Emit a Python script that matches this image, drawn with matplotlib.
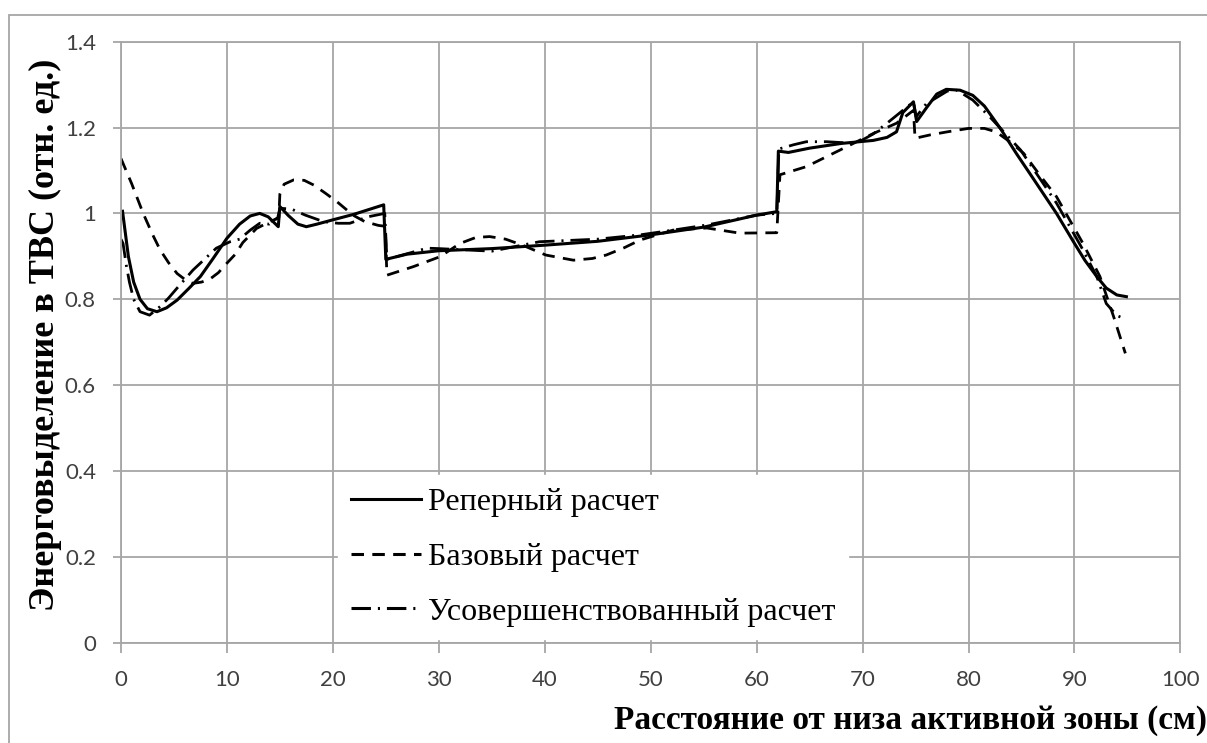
import matplotlib
matplotlib.use("Agg")
import matplotlib.pyplot as plt
from matplotlib.lines import Line2D
from matplotlib.patches import Rectangle

plt.rcParams['lines.scale_dashes'] = False

# Реперный расчет
x_ref = [0.15, 0.7, 1.2, 1.8, 2.5, 3.4, 4.3, 5.3, 6.4, 7.5, 8.7, 10.0, 11.2, 12.2, 13.1,
         13.9, 14.85, 15.0, 15.8, 16.7, 17.5, 18.5, 20.0, 22.0, 24.8, 25.0, 27.0, 30.0,
         35.0, 40.0, 45.0, 50.0, 55.0, 60.0, 61.9, 62.05, 63.0, 65.0, 68.0, 71.0, 72.3,
         73.2, 73.8, 74.8, 75.1, 76.0, 77.0, 77.9, 79.2, 80.4, 81.5, 83.0, 84.5, 86.0,
         88.3, 90.0, 91.0, 92.1, 93.0, 94.0, 94.9]
y_ref = [1.005, 0.90, 0.84, 0.80, 0.778, 0.771, 0.78, 0.798, 0.825, 0.853, 0.895, 0.942,
         0.975, 0.994, 1.000, 0.992, 0.969, 1.016, 0.995, 0.975, 0.969, 0.975, 0.985,
         0.998, 1.020, 0.893, 0.905, 0.913, 0.918, 0.926, 0.935, 0.950, 0.968, 0.996,
         1.004, 1.145, 1.142, 1.152, 1.163, 1.170, 1.177, 1.19, 1.235, 1.26, 1.214, 1.245,
         1.278, 1.289, 1.287, 1.275, 1.25, 1.198, 1.14, 1.085, 1.0, 0.93, 0.89, 0.853,
         0.826, 0.81, 0.806]

# Базовый расчет
x_base = [0.0, 1.0, 2.1, 3.0, 3.7, 4.5, 5.3, 6.2, 6.8, 7.6, 8.4, 9.2, 10.0, 10.8, 11.5,
          12.8, 14.0, 14.9, 15.0, 15.4, 16.3, 17.3, 18.2, 19.3, 20.4, 21.9, 23.0, 24.3,
          24.95, 25.1, 27.6, 30.1, 32.0, 33.5, 34.8, 36.3, 37.9, 40.1, 42.7, 44.5, 45.8,
          47.5, 49.0, 52.1, 55.3, 58.4, 61.9, 62.2, 64.7, 67.9, 71.0, 73.2, 74.8, 74.95,
          76.4, 78.0, 80.0, 81.5, 82.6, 84.0, 85.2, 86.7, 88.3, 90.8, 92.4, 93.7, 94.8]
y_base = [1.128, 1.07, 1.0, 0.95, 0.915, 0.885, 0.860, 0.843, 0.837, 0.84, 0.847, 0.862,
          0.884, 0.905, 0.932, 0.965, 0.98, 0.99, 1.045, 1.068, 1.078, 1.077, 1.066, 1.047,
          1.027, 0.996, 0.981, 0.972, 0.97, 0.856, 0.876, 0.899, 0.93, 0.944, 0.946, 0.94,
          0.926, 0.903, 0.891, 0.895, 0.903, 0.92, 0.938, 0.961, 0.966, 0.954, 0.955, 1.09,
          1.109, 1.148, 1.186, 1.21, 1.24, 1.175, 1.183, 1.19, 1.198, 1.198, 1.19, 1.165,
          1.14, 1.09, 1.039, 0.93, 0.853, 0.759, 0.674]

# Усовершенствованный расчет
x_imp = [0.0, 0.2, 0.5, 0.8, 1.2, 1.8, 2.7, 3.7, 4.5, 5.3, 6.8, 9.0, 10.3, 11.2, 12.2,
         13.1, 14.0, 14.8, 15.0, 16.1, 17.4, 19.1, 20.5, 21.6, 23.3, 24.9, 25.1, 28.9,
         30.0, 35.0, 39.5, 45.0, 49.0, 52.1, 55.3, 60.0, 61.9, 62.1, 63.5, 64.7, 66.6,
         69.4, 71.0, 72.3, 74.2, 74.8, 75.05, 76.0, 78.0, 78.9, 80.4, 82.0, 84.9, 88.3,
         90.8, 92.1, 93.0, 94.0, 94.6, 94.9]
y_imp = [0.94, 0.93, 0.88, 0.84, 0.80, 0.771, 0.763, 0.783, 0.803, 0.826, 0.868, 0.919,
         0.934, 0.94, 0.961, 0.977, 0.975, 0.99, 1.012, 1.01, 0.996, 0.981, 0.977, 0.977,
         0.992, 1.0, 0.893, 0.919, 0.918, 0.912, 0.934, 0.94, 0.95, 0.961, 0.973, 0.996,
         1.0, 1.15, 1.16, 1.167, 1.167, 1.163, 1.185, 1.21, 1.248, 1.26, 1.225, 1.255,
         1.285, 1.287, 1.264, 1.225, 1.148, 1.024, 0.915, 0.853, 0.79, 0.762, 0.756, 0.76]

labels = ['Реперный расчет', 'Базовый расчет', 'Усовершенствованный расчет']
x_ticks = list(range(0, 101, 10))
y_ticks = [0, 0.2, 0.4, 0.6, 0.8, 1, 1.2, 1.4]
y_ticklabels = ['0', '0.2', '0.4', '0.6', '0.8', '1', '1.2', '1.4']

grid_c = '#a6a6a6'
styles = ['-', (0, (9, 6)), (0, (14, 5, 1.5, 5))]

fig = plt.figure(figsize=(12.07, 7.43), dpi=100)
ax = fig.add_axes([0.1002, 0.135, 0.8778, 0.8089])

ax.plot(x_ref, y_ref, color='black', lw=2.2, linestyle=styles[0])
ax.plot(x_base, y_base, color='black', lw=2.0, linestyle=styles[1])
ax.plot(x_imp, y_imp, color='black', lw=2.0, linestyle=styles[2])

ax.set_xlim(0, 100)
ax.set_ylim(0, 1.4)
ax.set_xticks(x_ticks)
ax.set_yticks(y_ticks)
ax.set_yticklabels(y_ticklabels)
ax.grid(True, color=grid_c, lw=1.3)
ax.set_axisbelow(True)
for s in ax.spines.values():
    s.set_color(grid_c)
    s.set_linewidth(1.3)
ax.tick_params(axis='both', color=grid_c, width=1.3, labelcolor='#404040', labelsize=16)
ax.tick_params(axis='x', length=7, pad=13)
ax.tick_params(axis='y', length=6, pad=12)
for lab in ax.get_xticklabels() + ax.get_yticklabels():
    lab.set_family('Lato')

handles = [Line2D([], [], color='black', lw=2.2, linestyle=st) for st in styles]
leg = ax.legend(handles, labels, loc='upper left', bbox_to_anchor=(0.205, 0.279),
                borderaxespad=0, frameon=True, fancybox=False, framealpha=1,
                edgecolor='white', facecolor='white', handlelength=2.2,
                handletextpad=0.22, labelspacing=0.8, borderpad=0.39,
                prop={'family': 'Liberation Serif', 'size': 23})

fig.text(1.0, 1 - 720 / 743, 'Расстояние от низа активной зоны (см)',
         ha='right', va='center', family='Liberation Serif', weight='bold', size=24)
fig.text(45 / 1207, 1 - 335 / 743, 'Энерговыделение в ТВС (отн. ед.)',
         rotation=90, ha='center', va='center', family='Liberation Serif',
         weight='bold', size=26)

fig.patches.append(Rectangle((8.7 / 1207, -0.1), 1.2, 1 - 15 / 743 + 0.1,
                             transform=fig.transFigure, fill=False,
                             edgecolor=grid_c, lw=1.3))

fig.savefig('out.png', dpi=100)
